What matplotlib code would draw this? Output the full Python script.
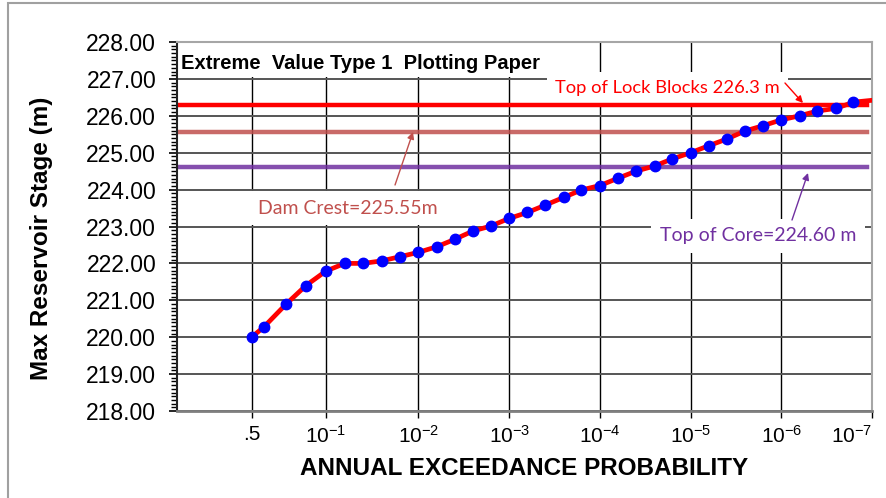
import numpy as np
import matplotlib
matplotlib.use("Agg")
import matplotlib.pyplot as plt
from matplotlib.ticker import FixedLocator, MultipleLocator, NullLocator
from matplotlib.patches import Rectangle

plt.rcParams['font.family'] = ['Liberation Sans', 'DejaVu Sans']
plt.rcParams['mathtext.fontset'] = 'custom'
plt.rcParams['mathtext.rm'] = 'Liberation Sans'
plt.rcParams['mathtext.it'] = 'Liberation Sans:italic'
plt.rcParams['mathtext.bf'] = 'Liberation Sans:bold'

# annual exceedance probability of each plotted point
aep = [0.5, 0.4, 0.25, 0.16, 0.1,
       0.063, 0.04, 0.025, 0.016, 0.01,
       6.3e-3, 4e-3, 2.5e-3, 1.6e-3, 1e-3,
       6.3e-4, 4e-4, 2.5e-4, 1.6e-4, 1e-4,
       6.3e-5, 4e-5, 2.5e-5, 1.6e-5, 1e-5,
       6.3e-6, 4e-6, 2.5e-6, 1.6e-6, 1e-6,
       6.3e-7, 4e-7, 2.5e-7, 1.6e-7, 1e-7]
# max reservoir stage (m)
stage = [220.00, 220.27, 220.90, 221.40, 221.79,
         222.00, 222.00, 222.07, 222.18, 222.30,
         222.45, 222.65, 222.88, 223.01, 223.22,
         223.38, 223.58, 223.79, 223.99, 224.11,
         224.31, 224.50, 224.64, 224.83, 225.00,
         225.19, 225.37, 225.59, 225.73, 225.89,
         226.00, 226.13, 226.20, 226.37, 226.42]

lock_blocks = 226.3
dam_crest = 225.55
top_core = 224.60

tick_probs = [0.5, 1e-1, 1e-2, 1e-3, 1e-4, 1e-5, 1e-6, 1e-7]
tick_labels = ['.5'] + [r'$\mathregular{10^{-%d}}$' % k for k in range(1, 8)]


def gumbel(p):
    # EV1 reduced variate
    p = np.clip(np.asarray(p, dtype=float), 1e-300, 1 - 1e-16)
    return -np.log(-np.log1p(-p))


def gumbel_inv(y):
    y = np.asarray(y, dtype=float)
    return -np.expm1(-np.exp(-y))


fig = plt.figure(figsize=(8.86, 4.98), dpi=100)
ax = fig.add_axes([177 / 886, 1 - 411 / 498, 695 / 886, 369 / 498])

ax.set_xscale('function', functions=(gumbel, gumbel_inv))
ax.set_xlim(1e-7, 0.99)
ax.set_ylim(218, 228)

ax.xaxis.set_major_locator(FixedLocator(tick_probs))
ax.xaxis.set_minor_locator(NullLocator())
ax.set_xticks(tick_probs)
ax.set_xticklabels(tick_labels, fontsize=15)
ax.get_xticklabels()[-1].set_ha('right')
ax.yaxis.set_major_locator(MultipleLocator(1))
ax.yaxis.set_minor_locator(MultipleLocator(0.1))
ax.set_yticks(np.arange(218, 228.5, 1))
ax.set_yticklabels(['%.2f' % v for v in np.arange(218, 228.5, 1)], fontsize=16.5)

ax.tick_params(axis='y', which='major', length=6, width=1.2, pad=9)
ax.tick_params(axis='y', which='minor', length=4, width=1.0)
ax.tick_params(axis='x', which='major', length=5, width=1.0, pad=5)

ax.set_axisbelow(True)
ax.xaxis.grid(True, color='black', linewidth=1.0)
ax.yaxis.grid(True, which='major', color='#555555', linewidth=1.4)

ax.spines['left'].set_color('#222222')
ax.spines['left'].set_linewidth(1.5)
ax.spines['bottom'].set_color('#7f7f7f')
ax.spines['bottom'].set_linewidth(2.0)
for s in ['top', 'right']:
    ax.spines[s].set_color('#a6a6a6')
    ax.spines[s].set_linewidth(1.5)

# label boxes hide the grid behind them
ax.add_patch(Rectangle((0, 0.905), 0.53, 0.095, transform=ax.transAxes,
                       facecolor='white', edgecolor='none', zorder=1))
box = dict(boxstyle='square,pad=0.45', facecolor='white', edgecolor='none')
ax.text(0.006, 0.943, 'Extreme  Value Type 1  Plotting Paper', transform=ax.transAxes,
        fontsize=14.5, fontweight='bold', va='center', ha='left', zorder=1.5)

ax.axhline(lock_blocks, xmax=0.993, color='#ff0000', linewidth=3.2, zorder=2.5)
ax.axhline(dam_crest, xmax=0.993, color='#c0504d', alpha=0.85, linewidth=3.2, zorder=2.5)
ax.axhline(top_core, xmax=0.993, color='#7030a0', alpha=0.85, linewidth=3.2, zorder=2.5)

ax.plot(aep, stage, color='#ff0000', linewidth=3.4, zorder=4)
ax.plot(aep[:-1], stage[:-1], linestyle='none', marker='o', markersize=7.5,
        color='#0000ff', zorder=5)

afont = ['Lato', 'DejaVu Sans']
ax.text(0.2460, 0.5501, 'Dam Crest=225.55m', transform=ax.transAxes, family=afont,
        fontsize=14, color='#c0504d', ha='center', va='center', bbox=box, zorder=1.5)
ax.text(0.7058, 0.8753, 'Top of Lock Blocks 226.3 m', transform=ax.transAxes, family=afont,
        fontsize=13.2, color='#ff0000', ha='center', va='center', bbox=box, zorder=1.5)
ax.text(0.8360, 0.4743, 'Top of Core=224.60 m', transform=ax.transAxes, family=afont,
        fontsize=14, color='#7030a0', ha='center', va='center', bbox=box, zorder=1.5)

arrow = dict(arrowstyle='-|>', mutation_scale=10, shrinkA=0, shrinkB=0)
ax.annotate('', xy=(0.3396, 0.7561), xytext=(0.3137, 0.6125), xycoords='axes fraction',
            arrowprops=dict(arrow, color='#c0504d', lw=1.0), zorder=3)
ax.annotate('', xy=(0.9007, 0.8347), xytext=(0.8748, 0.8889), xycoords='axes fraction',
            arrowprops=dict(arrow, color='#ff0000', lw=1.0), zorder=3)
ax.annotate('', xy=(0.9079, 0.6450), xytext=(0.8849, 0.5176), xycoords='axes fraction',
            arrowprops=dict(arrow, color='#7030a0', lw=1.0), zorder=3)

ax.set_xlabel('ANNUAL EXCEEDANCE PROBABILITY', fontsize=17.5, fontweight='bold', labelpad=7)
ax.set_ylabel('Max Reservoir Stage (m)', fontsize=17.5, fontweight='bold')
ax.yaxis.set_label_coords(-0.178, 0.4675)

# outer chart frame
fig.patches.append(Rectangle((8 / 886, -0.1), 1.2, 1.1 - 3 / 498, transform=fig.transFigure,
                             fill=False, edgecolor='#a0a0a0', linewidth=1.5))

fig.savefig('out.png', dpi=100)
